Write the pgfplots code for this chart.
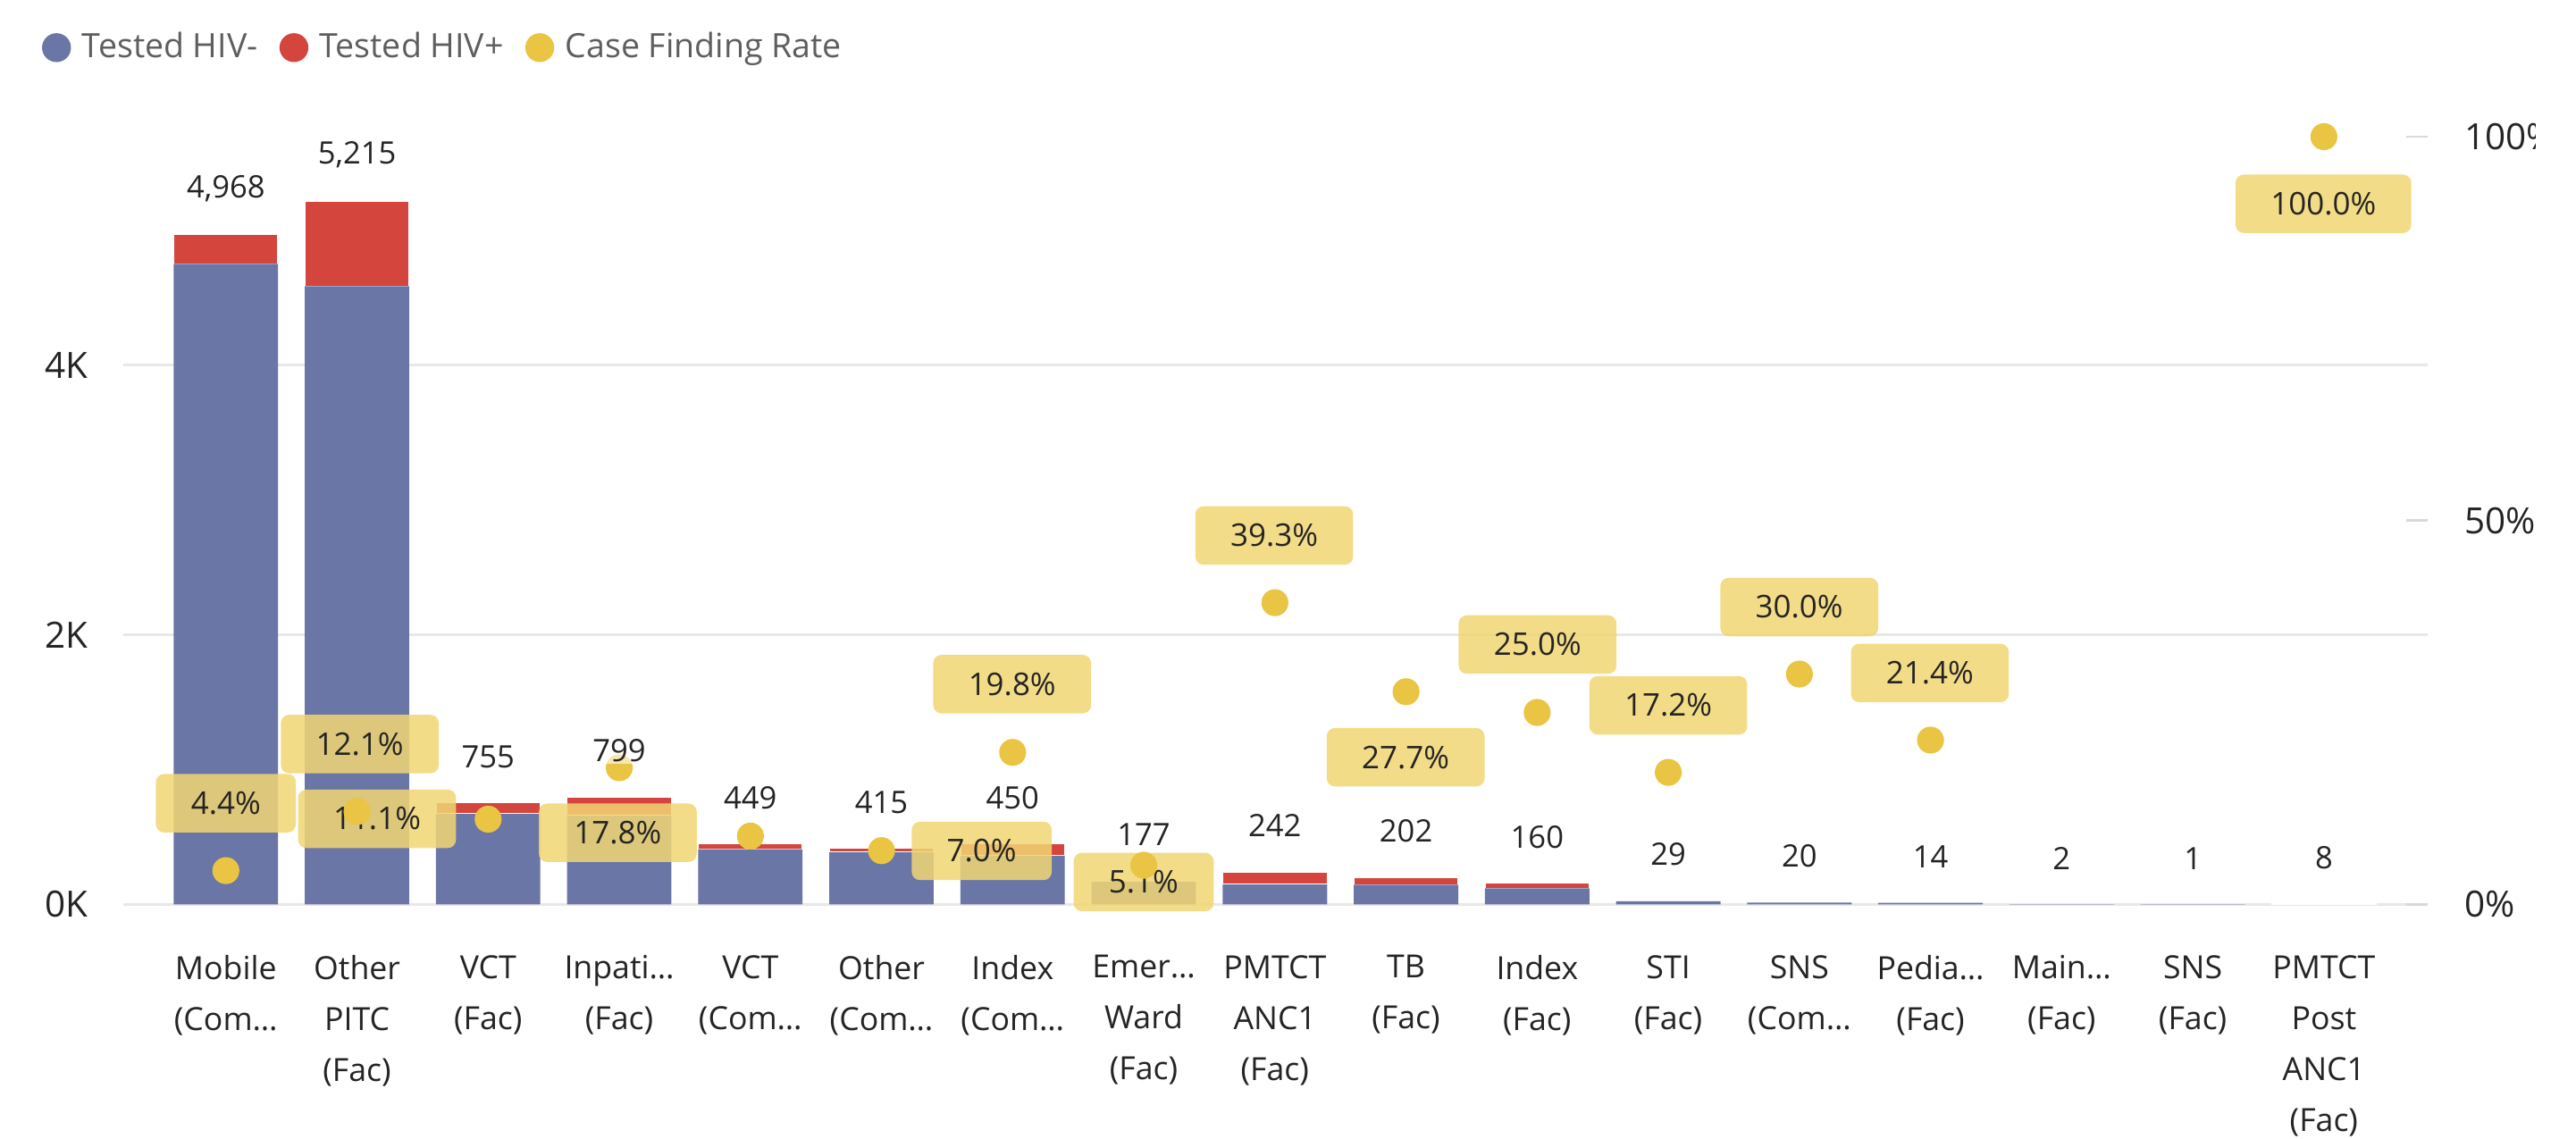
\documentclass[border=0pt]{standalone}
\usepackage{fontspec}
\setmainfont{Open Sans}
\usepackage{pgfplots}
\pgfplotsset{compat=1.18}
\definecolor{hivneg}{HTML}{6A76A6}
\definecolor{hivpos}{HTML}{D4453E}
\definecolor{cfr}{HTML}{E9C543}
\definecolor{boxfill}{HTML}{F1D673}
\definecolor{txt}{HTML}{252423}
\definecolor{legtxt}{HTML}{605E5C}
\definecolor{gridc}{HTML}{E8E8E8}
\pgfplotsset{/pgf/number format/assume math mode=true}
\begin{document}
\begin{tikzpicture}[
  lab/.style={fill=boxfill, fill opacity=0.85, text opacity=1, rounded corners=2.5pt,
    inner xsep=10.7pt, inner ysep=0pt, minimum height=17.8pt,
    font=\fontsize{9.5}{11}\selectfont, text=txt}]
\useasboundingbox (-37.5pt,-71.2pt) rectangle (746.5pt,275.3pt);
\begin{axis}[
  at={(0,0)}, anchor=south west,
  scale only axis, width=701.3pt, height=233.7pt,
  ybar stacked, bar width=0.796,
  xmin=-0.783, xmax=16.79, ymin=0, ymax=5693,
  clip=false,
  axis line style={draw=none},
  major tick length=0pt,
  ytick pos=left, xtick pos=lower,
  ytick={0,2000,4000}, yticklabels={0K,2K,4K},
  ymajorgrids, grid style={draw=gridc, line width=0.7pt},
  yticklabel style={anchor=east, inner sep=0pt, xshift=-10.5pt, font=\fontsize{11}{13}\selectfont, text=txt},
  xtick={0,...,16},
  xticklabels={
    {Mobile\\(Com…},
    {Other\\PITC\\(Fac)},
    {VCT\\(Fac)},
    {Inpati…\\(Fac)},
    {VCT\\(Com…},
    {Other\\(Com…},
    {Index\\(Com…},
    {Emer…\\Ward\\(Fac)},
    {PMTCT\\ANC1\\(Fac)},
    {TB\\(Fac)},
    {Index\\(Fac)},
    {STI\\(Fac)},
    {SNS\\(Com…},
    {Pedia…\\(Fac)},
    {Main…\\(Fac)},
    {SNS\\(Fac)},
    {PMTCT\\Post\\ANC1\\(Fac)}},
  xticklabel style={anchor=north, align=center, inner sep=0pt, yshift=-15.3pt,
    font=\fontsize{9.7}{15.5}\selectfont, text=txt},
]
\addplot+[fill=hivneg, draw=none, forget plot] coordinates {
  (0,4749) (1,4584) (2,671) (3,657) (4,409) (5,386) (6,361) (7,168) (8,147)
  (9,146) (10,120) (11,24) (12,14) (13,11) (14,2) (15,1) (16,0)};
\addplot+[fill=hivpos, draw=white, line width=0.4pt, forget plot] coordinates {
  (0,219) (1,631) (2,84) (3,142) (4,40) (5,29) (6,89) (7,9) (8,95) (9,56)
  (10,40) (11,5) (12,6) (13,3) (14,0) (15,0) (16,8)};
\end{axis}
\begin{axis}[
  at={(0,0)}, anchor=south west,
  scale only axis, width=701.3pt, height=233.7pt,
  xmin=-0.783, xmax=16.79, ymin=0, ymax=1,
  clip=false,
  axis x line=none,
  axis y line*=right,
  y axis line style={draw=none},
  ytick={0,0.5,1}, yticklabels={0\%,50\%,100\%},
  tick align=inside, major tick length=6.5pt,
  ytick style={draw=gray!30, line width=0.7pt},
  yticklabel style={anchor=west, inner sep=0pt, xshift=11pt, font=\fontsize{11}{13}\selectfont, text=txt},
  legend columns=3,
  legend style={at={(0,1)}, anchor=west, xshift=-24.9pt, yshift=27.1pt,
    draw=none, fill=none, inner sep=0pt,
    font=\fontsize{10.2}{12}\selectfont, text=legtxt,
    nodes={inner sep=0pt},
    /tikz/every even column/.append style={column sep=6.6pt}},
]
\addplot[only marks, mark=*, mark size=3.9pt, color=cfr, forget plot] coordinates {
  (0,0.044) (1,0.121) (2,0.111) (3,0.178) (4,0.089) (5,0.070) (6,0.198)
  (7,0.051) (8,0.393) (9,0.277) (10,0.250) (11,0.172) (12,0.300) (13,0.214)
  (16,1.0)};
\addlegendimage{draw=none, legend image code/.code={\fill[hivneg, draw=none] (4.4pt,0pt) circle (4.4pt); \path[draw=none, fill=none] (0pt,0pt) -- (12.2pt,0pt);}}
\addlegendentry{Tested HIV-}
\addlegendimage{draw=none, legend image code/.code={\fill[hivpos, draw=none] (4.4pt,0pt) circle (4.4pt); \path[draw=none, fill=none] (0pt,0pt) -- (12.2pt,0pt);}}
\addlegendentry{Tested HIV+}
\addlegendimage{draw=none, legend image code/.code={\fill[cfr, draw=none] (4.4pt,0pt) circle (4.4pt); \path[draw=none, fill=none] (0pt,0pt) -- (12.2pt,0pt);}}
\addlegendentry{Case Finding Rate}
\node[lab] at (axis cs:0.0,0.1318) {4.4\%};
\node[lab] at (axis cs:1.021,0.2088) {12.1\%};
\node[lab] at (axis cs:1.153,0.1115) {11.1\%};
\node[lab] at (axis cs:2.989,0.0933) {17.8\%};
\node[lab] at (axis cs:5.996,0.2869) {19.8\%};
\node[lab] at (axis cs:5.764,0.0697) {7.0\%};
\node[lab] at (axis cs:6.999,0.0291) {5.1\%};
\node[lab] at (axis cs:7.995,0.4805) {39.3\%};
\node[lab] at (axis cs:8.997,0.1917) {27.7\%};
\node[lab] at (axis cs:10.003,0.3385) {25.0\%};
\node[lab] at (axis cs:11.0,0.2593) {17.2\%};
\node[lab] at (axis cs:11.999,0.3873) {30.0\%};
\node[lab] at (axis cs:12.995,0.3015) {21.4\%};
\node[lab] at (axis cs:15.996,0.9126) {100.0\%};
\end{axis}
% totals above the stacks (same scale as the bar axis)
\begin{axis}[
  at={(0,0)}, anchor=south west,
  scale only axis, width=701.3pt, height=233.7pt,
  xmin=-0.783, xmax=16.79, ymin=0, ymax=5693,
  clip=false, hide axis,
]
\addplot[only marks, mark=none, point meta=explicit,
  nodes near coords={\pgfmathprintnumber[fixed,precision=0,1000 sep={,}]{\pgfplotspointmeta}},
  every node near coord/.append style={anchor=center, yshift=14pt, inner xsep=1pt, inner ysep=0.5pt,
    fill=white, fill opacity=0.6, text opacity=1,
    font=\fontsize{9.4}{11}\selectfont, text=txt}] coordinates {
  (0,4968) [4968] (1,5215) [5215] (2,755) [755] (3,799) [799] (4,449) [449]
  (5,415) [415] (6,450) [450] (7,177) [177] (8,242) [242] (9,202) [202]
  (10,160) [160] (11,29) [29] (12,20) [20] (13,14) [14] (14,2) [2]
  (15,1) [1] (16,8) [8]};
\end{axis}
\fill[white] (734.25pt,-71.2pt) rectangle (746.5pt,275.3pt);
\end{tikzpicture}
\end{document}
